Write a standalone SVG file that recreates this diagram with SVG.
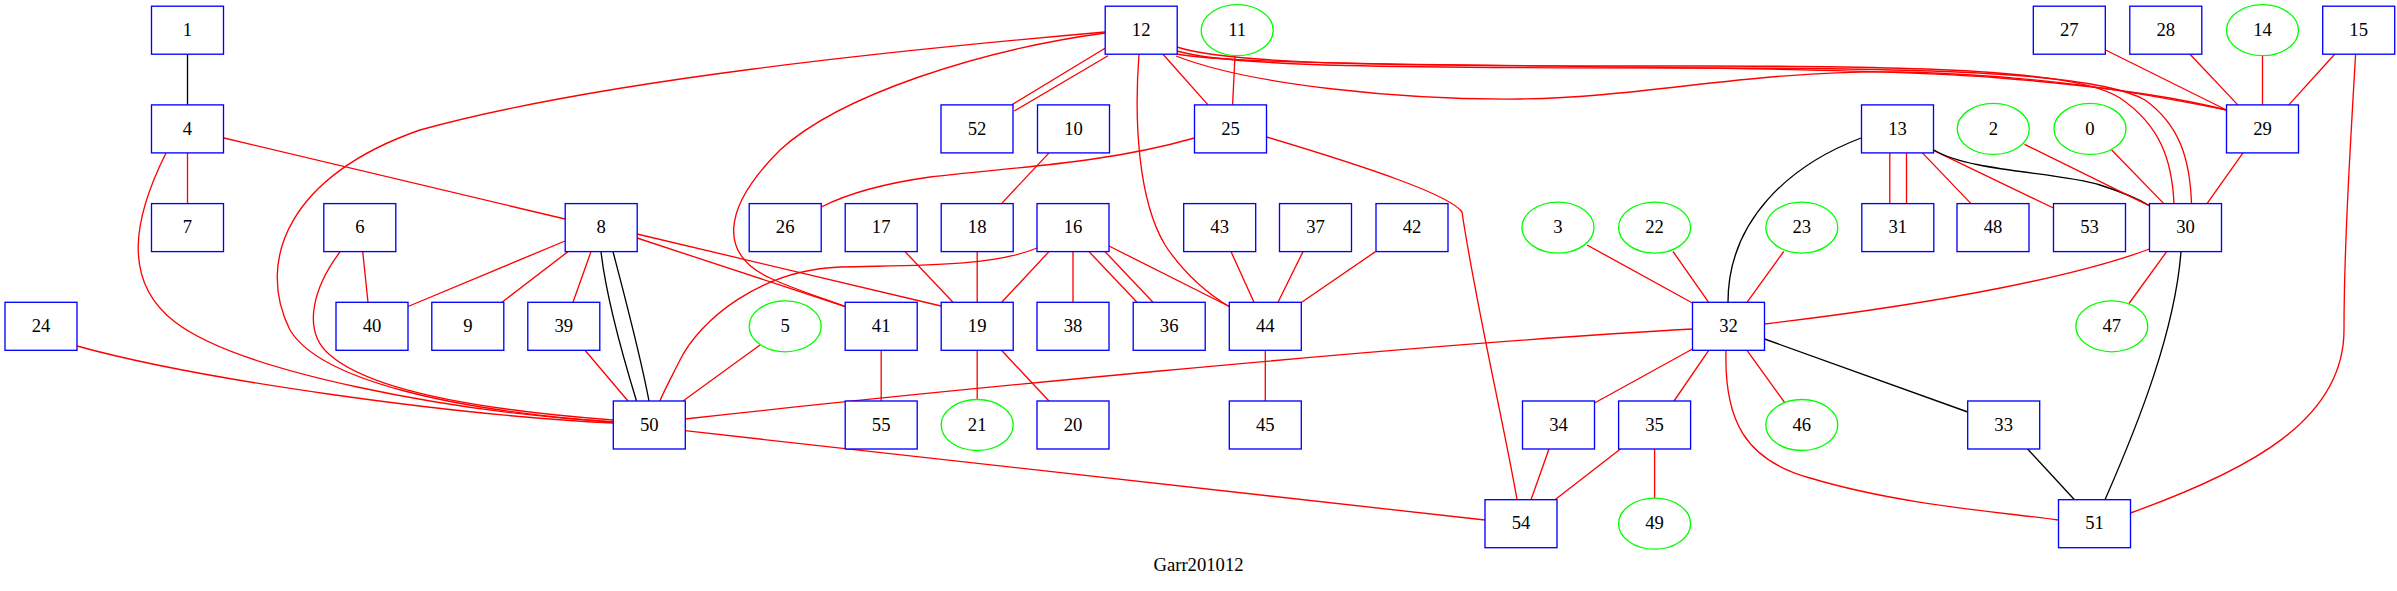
<svg xmlns="http://www.w3.org/2000/svg" width="2397" height="591" viewBox="0 0 2397 591">
<style>
.b{fill:#fff;stroke:#0000ff;stroke-width:1.33}
.e{fill:#fff;stroke:#00ff00;stroke-width:1.33}
text{font-family:"Liberation Serif","Times New Roman",serif;font-size:18.67px;text-anchor:middle;fill:#000}
#edges path{fill:none;stroke-width:1.33}
#edges .r{stroke:#ff0000}
#edges .k{stroke:#000000}
</style>
<rect width="2397" height="591" fill="#fff"/>
<g id="edges">
<path class="k" d="M187.5,54.2 L187.5,104.9"/>
<path class="r" d="M187.5,152.9 L187.5,203.6"/>
<path class="r" d="M224,138 L565,219"/>
<path class="r" d="M166,153 C135,215 120,280 175,322 C240,372 450,412 613,422"/>
<path class="r" d="M1105,32 C900,50 600,80 420,130 C290,175 255,260 290,330 C320,380 450,410 613,422"/>
<path class="r" d="M340,252 C315,285 300,330 330,355 C370,390 480,410 613,420"/>
<path class="r" d="M77,346 C200,380 450,415 613,423"/>
<path class="r" d="M362.7,251.6 L368,302.3"/>
<path class="r" d="M565,241 L408,306.5"/>
<path class="r" d="M568,251.6 L502,302.3"/>
<path class="r" d="M591,251.6 L573,302.3"/>
<path class="k" d="M601,251.6 C606,296 620,347 636.5,401"/>
<path class="k" d="M613,251.6 C623,290 640,353 649,401"/>
<path class="r" d="M585,350.3 L628,401"/>
<path class="r" d="M760,345 L683,401"/>
<path class="r" d="M1037,248 C990,268 900,265 840,267 C760,270 700,320 680,360 C670,380 662,395 660,401"/>
<path class="r" d="M685,419 C900,395 1400,345 1692.5,329"/>
<path class="r" d="M685,430.7 L1485,520"/>
<path class="r" d="M637,234 L941,306"/>
<path class="r" d="M637,238 L845,306.5"/>
<path class="r" d="M1105,33 C980,50 840,95 780,150 C720,210 720,255 770,278 C800,292 830,300 845,306.5"/>
<path class="r" d="M1105,48.3 L1011.7,104.9"/>
<path class="r" d="M1108,55.7 L1014.3,111"/>
<path class="r" d="M1163,54.2 L1208,104.9"/>
<path class="r" d="M1235,55.7 L1232.6,104.9"/>
<path class="r" d="M1139,54.2 C1134,120 1138,200 1165,245 C1185,275 1210,295 1229,306.5"/>
<path class="r" d="M1194.5,138 C1100,165 1000,168 930,177 C880,184 845,195 821.2,207"/>
<path class="r" d="M1266.5,137 C1370,168 1450,195 1462,212 C1475,300 1505,430 1517,499.7"/>
<path class="r" d="M1049,152.9 L1001.5,203.6"/>
<path class="r" d="M905,251.6 L953,302.3"/>
<path class="r" d="M977.2,251.6 L977.2,302.3"/>
<path class="r" d="M1049,251.6 L1001.7,302.3"/>
<path class="r" d="M1073,251.6 L1073,302.3"/>
<path class="r" d="M1089,251.6 L1137,302.3"/>
<path class="r" d="M1105,251.6 L1153,302.3"/>
<path class="r" d="M1109,246 L1229.3,306.5"/>
<path class="r" d="M1231,251.6 L1254,302.3"/>
<path class="r" d="M1303,251.6 L1278,302.3"/>
<path class="r" d="M1375.5,251.6 L1301.7,302.3"/>
<path class="r" d="M881.2,350.3 L881.2,401"/>
<path class="r" d="M977.2,350.3 L977.2,399.5"/>
<path class="r" d="M1001.5,350.3 L1049,401"/>
<path class="r" d="M1265.3,350.3 L1265.3,401"/>
<path class="r" d="M1177,54 C1250,70 1800,62 2000,78 C2100,86 2180,98 2226.5,110"/>
<path class="r" d="M1176,56 C1250,85 1400,100 1520,99 C1650,97 1750,70 1900,72 C2050,75 2150,95 2226.5,110"/>
<path class="r" d="M1177,47 C1230,65 1400,66 1700,66 C1950,66 2080,72 2120,98 C2160,125 2172,160 2174,203.6"/>
<path class="r" d="M1177,51 C1230,67 1400,68 1700,68 C1950,68 2100,74 2145,100 C2180,125 2190,160 2191.5,203.6"/>
<path class="r" d="M2105.6,50 L2226.5,110"/>
<path class="r" d="M2190,54.2 L2237.8,104.9"/>
<path class="r" d="M2262.5,55.7 L2262.5,104.9"/>
<path class="r" d="M2334.7,54.2 L2288.8,104.9"/>
<path class="r" d="M2355.6,54.2 C2350,150 2344,250 2344,330 C2344,420 2250,470 2130.5,513"/>
<path class="r" d="M2243,152.9 L2207,203.6"/>
<path class="r" d="M1889.8,152.9 L1889.8,203.6"/>
<path class="r" d="M1906.5,152.9 L1906.5,203.6"/>
<path class="r" d="M1922.4,152.9 L1971,203.6"/>
<path class="r" d="M1934,150.7 L2053.5,208"/>
<path class="k" d="M1934,150 C1970,172 2060,172 2100,185 C2125,193 2140,200 2150,206"/>
<path class="k" d="M1861,138 C1790,165 1728,220 1728,302.3"/>
<path class="r" d="M2024.5,144.3 L2151,206.7"/>
<path class="r" d="M2111.7,150 L2163.8,203.6"/>
<path class="r" d="M2149.5,249 C2080,275 1950,302 1764.5,324"/>
<path class="r" d="M2166.7,251.6 L2129,303.5"/>
<path class="k" d="M2181,251.6 C2175,330 2140,420 2105,499.7"/>
<path class="r" d="M1587,245 L1692.5,303"/>
<path class="r" d="M1673,251.5 L1708.7,302.3"/>
<path class="r" d="M1783.7,251.5 L1747,302.3"/>
<path class="k" d="M1764.5,339 L1967.7,412"/>
<path class="r" d="M1692.5,349 L1594.5,403"/>
<path class="r" d="M1708.7,350.3 L1674,401"/>
<path class="r" d="M1747,350.3 L1784.7,402.7"/>
<path class="r" d="M1726,350.3 C1724,420 1745,460 1810,478 C1900,505 2000,512 2058.5,520"/>
<path class="k" d="M2027.6,449 L2074.5,499.7"/>
<path class="r" d="M1549,449 L1531,499.7"/>
<path class="r" d="M1620.4,449 L1555,499.7"/>
<path class="r" d="M1654.6,449 L1654.6,498.2"/>
</g>
<g id="n1"><rect class="b" x="151.5" y="6.2" width="72" height="48"/><text x="187.5" y="35.8">1</text></g>
<g id="n12"><rect class="b" x="1105.2" y="6.2" width="72" height="48"/><text x="1141.2" y="35.8">12</text></g>
<g id="n11"><ellipse class="e" cx="1237.2" cy="30.2" rx="36" ry="25.5"/><text x="1237.2" y="35.8">11</text></g>
<g id="n27"><rect class="b" x="2033.3" y="6.2" width="72" height="48"/><text x="2069.3" y="35.8">27</text></g>
<g id="n28"><rect class="b" x="2129.8" y="6.2" width="72" height="48"/><text x="2165.8" y="35.8">28</text></g>
<g id="n14"><ellipse class="e" cx="2262.5" cy="30.2" rx="36" ry="25.5"/><text x="2262.5" y="35.8">14</text></g>
<g id="n15"><rect class="b" x="2322.7" y="6.2" width="72" height="48"/><text x="2358.7" y="35.8">15</text></g>
<g id="n4"><rect class="b" x="151.5" y="104.9" width="72" height="48"/><text x="187.5" y="134.5">4</text></g>
<g id="n52"><rect class="b" x="941" y="104.9" width="72" height="48"/><text x="977" y="134.5">52</text></g>
<g id="n10"><rect class="b" x="1037.5" y="104.9" width="72" height="48"/><text x="1073.5" y="134.5">10</text></g>
<g id="n25"><rect class="b" x="1194.5" y="104.9" width="72" height="48"/><text x="1230.5" y="134.5">25</text></g>
<g id="n13"><rect class="b" x="1861.5" y="104.9" width="72" height="48"/><text x="1897.5" y="134.5">13</text></g>
<g id="n2"><ellipse class="e" cx="1993.3" cy="128.9" rx="36" ry="25.5"/><text x="1993.3" y="134.5">2</text></g>
<g id="n0"><ellipse class="e" cx="2090" cy="128.9" rx="36" ry="25.5"/><text x="2090" y="134.5">0</text></g>
<g id="n29"><rect class="b" x="2226.5" y="104.9" width="72" height="48"/><text x="2262.5" y="134.5">29</text></g>
<g id="n7"><rect class="b" x="151.5" y="203.6" width="72" height="48"/><text x="187.5" y="233.2">7</text></g>
<g id="n6"><rect class="b" x="323.8" y="203.6" width="72" height="48"/><text x="359.8" y="233.2">6</text></g>
<g id="n8"><rect class="b" x="565.2" y="203.6" width="72" height="48"/><text x="601.2" y="233.2">8</text></g>
<g id="n26"><rect class="b" x="749.2" y="203.6" width="72" height="48"/><text x="785.2" y="233.2">26</text></g>
<g id="n17"><rect class="b" x="845.2" y="203.6" width="72" height="48"/><text x="881.2" y="233.2">17</text></g>
<g id="n18"><rect class="b" x="941.2" y="203.6" width="72" height="48"/><text x="977.2" y="233.2">18</text></g>
<g id="n16"><rect class="b" x="1037" y="203.6" width="72" height="48"/><text x="1073" y="233.2">16</text></g>
<g id="n43"><rect class="b" x="1183.7" y="203.6" width="72" height="48"/><text x="1219.7" y="233.2">43</text></g>
<g id="n37"><rect class="b" x="1279.5" y="203.6" width="72" height="48"/><text x="1315.5" y="233.2">37</text></g>
<g id="n42"><rect class="b" x="1376" y="203.6" width="72" height="48"/><text x="1412" y="233.2">42</text></g>
<g id="n3"><ellipse class="e" cx="1558" cy="227.6" rx="36" ry="25.5"/><text x="1558" y="233.2">3</text></g>
<g id="n22"><ellipse class="e" cx="1654.6" cy="227.6" rx="36" ry="25.5"/><text x="1654.6" y="233.2">22</text></g>
<g id="n23"><ellipse class="e" cx="1801.8" cy="227.6" rx="36" ry="25.5"/><text x="1801.8" y="233.2">23</text></g>
<g id="n31"><rect class="b" x="1861.8" y="203.6" width="72" height="48"/><text x="1897.8" y="233.2">31</text></g>
<g id="n48"><rect class="b" x="1957" y="203.6" width="72" height="48"/><text x="1993" y="233.2">48</text></g>
<g id="n53"><rect class="b" x="2053.5" y="203.6" width="72" height="48"/><text x="2089.5" y="233.2">53</text></g>
<g id="n30"><rect class="b" x="2149.5" y="203.6" width="72" height="48"/><text x="2185.5" y="233.2">30</text></g>
<g id="n24"><rect class="b" x="5" y="302.3" width="72" height="48"/><text x="41" y="331.9">24</text></g>
<g id="n40"><rect class="b" x="336" y="302.3" width="72" height="48"/><text x="372" y="331.9">40</text></g>
<g id="n9"><rect class="b" x="431.8" y="302.3" width="72" height="48"/><text x="467.8" y="331.9">9</text></g>
<g id="n39"><rect class="b" x="527.8" y="302.3" width="72" height="48"/><text x="563.8" y="331.9">39</text></g>
<g id="n5"><ellipse class="e" cx="785.2" cy="326.3" rx="36" ry="25.5"/><text x="785.2" y="331.9">5</text></g>
<g id="n41"><rect class="b" x="845.2" y="302.3" width="72" height="48"/><text x="881.2" y="331.9">41</text></g>
<g id="n19"><rect class="b" x="941.2" y="302.3" width="72" height="48"/><text x="977.2" y="331.9">19</text></g>
<g id="n38"><rect class="b" x="1037" y="302.3" width="72" height="48"/><text x="1073" y="331.9">38</text></g>
<g id="n36"><rect class="b" x="1133.2" y="302.3" width="72" height="48"/><text x="1169.2" y="331.9">36</text></g>
<g id="n44"><rect class="b" x="1229.3" y="302.3" width="72" height="48"/><text x="1265.3" y="331.9">44</text></g>
<g id="n32"><rect class="b" x="1692.5" y="302.3" width="72" height="48"/><text x="1728.5" y="331.9">32</text></g>
<g id="n47"><ellipse class="e" cx="2111.8" cy="326.3" rx="36" ry="25.5"/><text x="2111.8" y="331.9">47</text></g>
<g id="n50"><rect class="b" x="613.3" y="401" width="72" height="48"/><text x="649.3" y="430.6">50</text></g>
<g id="n55"><rect class="b" x="845.2" y="401" width="72" height="48"/><text x="881.2" y="430.6">55</text></g>
<g id="n21"><ellipse class="e" cx="977.2" cy="425" rx="36" ry="25.5"/><text x="977.2" y="430.6">21</text></g>
<g id="n20"><rect class="b" x="1037" y="401" width="72" height="48"/><text x="1073" y="430.6">20</text></g>
<g id="n45"><rect class="b" x="1229.3" y="401" width="72" height="48"/><text x="1265.3" y="430.6">45</text></g>
<g id="n34"><rect class="b" x="1522.5" y="401" width="72" height="48"/><text x="1558.5" y="430.6">34</text></g>
<g id="n35"><rect class="b" x="1618.6" y="401" width="72" height="48"/><text x="1654.6" y="430.6">35</text></g>
<g id="n46"><ellipse class="e" cx="1801.8" cy="425" rx="36" ry="25.5"/><text x="1801.8" y="430.6">46</text></g>
<g id="n33"><rect class="b" x="1967.7" y="401" width="72" height="48"/><text x="2003.7" y="430.6">33</text></g>
<g id="n54"><rect class="b" x="1485" y="499.7" width="72" height="48"/><text x="1521" y="529.3">54</text></g>
<g id="n49"><ellipse class="e" cx="1654.6" cy="523.7" rx="36" ry="25.5"/><text x="1654.6" y="529.3">49</text></g>
<g id="n51"><rect class="b" x="2058.5" y="499.7" width="72" height="48"/><text x="2094.5" y="529.3">51</text></g>
<text x="1198.5" y="571">Garr201012</text>
</svg>
